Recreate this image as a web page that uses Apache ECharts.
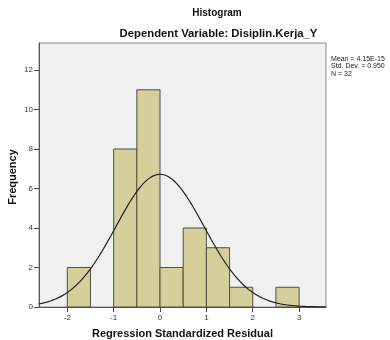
<!DOCTYPE html>
<html><head><meta charset="utf-8">
<script src="https://cdn.jsdelivr.net/npm/echarts@6/dist/echarts.min.js"></script>
<style>html,body{margin:0;padding:0;background:#fff}#c{width:390px;height:340px}</style>
</head><body><div id="c"></div>
<script>
var binStarts = [-2, -1, -0.5, 0, 0.5, 1, 1.5, 2.5];
var binWidth = 0.5;
var frequencies = [2, 8, 11, 2, 4, 3, 1, 1];
var xTicks = [-2, -1, 0, 1, 2, 3];
var yTicks = [0, 2, 4, 6, 8, 10, 12];
var statMean = 4.15e-15;
var statSD = 0.950;
var statN = 32;
var statLines = ['Mean = 4.15E-15', 'Std. Dev. = 0.950', 'N = 32'];

var xMin = -2.61, xMax = 3.58, yMax = 13.37;
var bars = binStarts.map(function (s, i) { return [s, s + binWidth, frequencies[i]]; });
var curve = [];
for (var k = 0; k <= 200; k++) {
  var x = xMin + (xMax - xMin) * k / 200;
  var z = (x - statMean) / statSD;
  curve.push([x, statN * binWidth * Math.exp(-0.5 * z * z) / (statSD * Math.sqrt(2 * Math.PI))]);
}
var FONT = 'Liberation Sans, Arial, sans-serif';
var chart = echarts.init(document.getElementById('c'), null, {renderer: 'canvas'});
chart.setOption({
  animation: false,
  backgroundColor: '#fff',
  graphic: [
    {type: 'text', x: 217, y: 13,
     style: {text: 'Histogram', font: 'bold 10px ' + FONT, fill: '#111', align: 'center', verticalAlign: 'middle'}},
    {type: 'text', x: 218.5, y: 34,
     style: {text: 'Dependent Variable: Disiplin.Kerja_Y', font: 'bold 11.3px ' + FONT, fill: '#111', align: 'center', verticalAlign: 'middle'}},
    {type: 'text', x: 331, y: 55,
     style: {text: statLines.join('\n'), font: '7px ' + FONT, fill: '#222', lineHeight: 7.5}},
    {type: 'text', x: 13, y: 177, rotation: Math.PI / 2,
     style: {text: 'Frequency', font: 'bold 11px ' + FONT, fill: '#111', align: 'center', verticalAlign: 'middle'}}
  ],
  grid: {left: 39, top: 43, right: 64, bottom: 33, show: true, backgroundColor: '#f0f0f0',
         borderColor: '#8c8c8c', borderWidth: 1, containLabel: false, outerBoundsMode: 'none'},
  xAxis: {
    type: 'value', min: xMin, max: xMax,
    name: 'Regression Standardized Residual', nameLocation: 'middle', nameGap: 21,
    nameTextStyle: {fontFamily: FONT, fontSize: 11, fontWeight: 'bold', color: '#111'},
    axisLine: {show: true, onZero: false, lineStyle: {color: '#555', width: 1}},
    axisTick: {show: true, length: 5, lineStyle: {color: '#444'}, customValues: xTicks},
    axisLabel: {fontFamily: FONT, fontSize: 8, color: '#333', margin: 7, customValues: xTicks},
    splitLine: {show: false}
  },
  yAxis: {
    type: 'value', min: 0, max: yMax,
    axisLine: {show: true, onZero: false, lineStyle: {color: '#555', width: 1}},
    axisTick: {show: true, length: 5, lineStyle: {color: '#444'}, customValues: yTicks},
    axisLabel: {fontFamily: FONT, fontSize: 8, color: '#333', margin: 6, customValues: yTicks},
    splitLine: {show: false}
  },
  series: [
    {
      type: 'custom', data: bars, z: 2,
      renderItem: function (params, api) {
        var p0 = api.coord([api.value(0), api.value(2)]);
        var p1 = api.coord([api.value(1), 0]);
        return {type: 'rect', shape: {x: p0[0], y: p0[1], width: p1[0] - p0[0], height: p1[1] - p0[1]},
                style: {fill: '#d4cf9b', stroke: '#4f4f44', lineWidth: 1}};
      },
      encode: {x: [0, 1], y: 2}
    },
    {
      type: 'line', data: curve, showSymbol: false, smooth: false, z: 3,
      lineStyle: {color: '#222', width: 1.2}
    }
  ]
});
</script></body></html>
